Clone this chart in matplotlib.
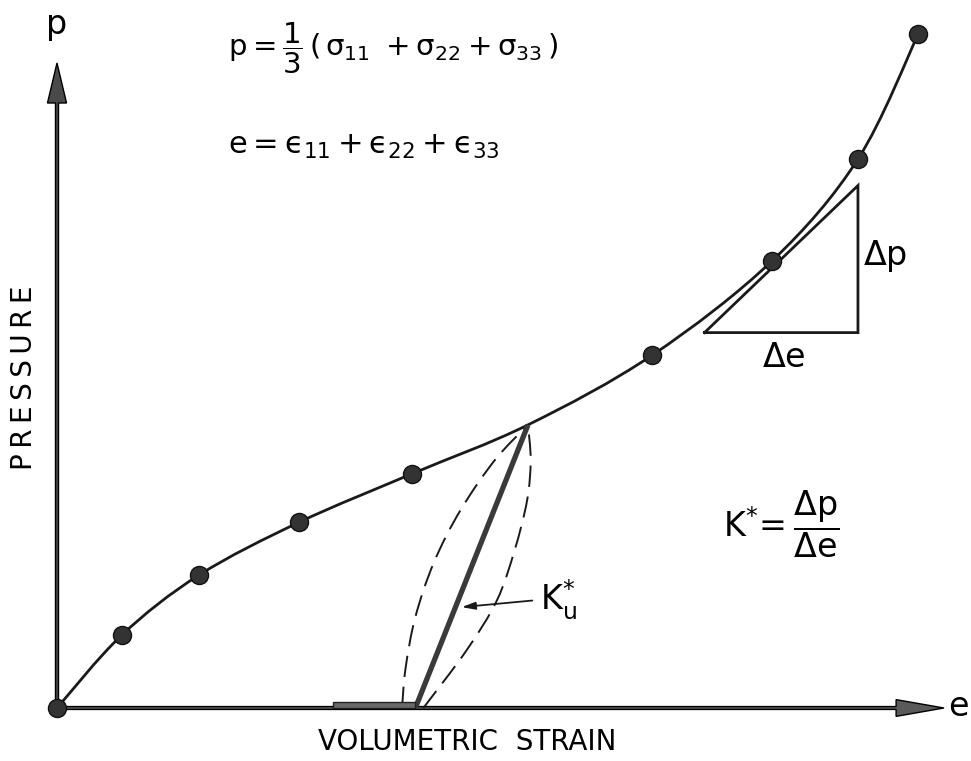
import numpy as np
import matplotlib
matplotlib.use("Agg")
import matplotlib.pyplot as plt
from matplotlib.path import Path
from matplotlib.patches import PathPatch, Rectangle

plt.rcParams['font.family'] = ['DejaVu Sans']
plt.rcParams['mathtext.fontset'] = 'dejavusans'
plt.rcParams['mathtext.default'] = 'regular'

# loading curve, strain and pressure scaled to the length of the axis arrows
strain = [0.0, 0.073, 0.160, 0.273, 0.400, 0.671, 0.806, 0.903, 0.971]
pressure = [0.0, 0.113, 0.206, 0.288, 0.363, 0.547, 0.693, 0.851, 1.045]

# point on the curve where unloading starts
peak_e, peak_p = 0.531, 0.439
# unloading line ends here on the strain axis
unload_e = 0.404
residual_e0 = 0.311          # left end of the permanent-strain bar
residual_h = 0.009

# dashed unload / reload loop
loop_left_e = [0.389, 0.393, 0.404, 0.425, 0.455, 0.494, 0.531]
loop_left_p = [0.0, 0.062, 0.141, 0.226, 0.307, 0.385, 0.439]
loop_right_e = [0.413, 0.462, 0.496, 0.516, 0.530, 0.534, 0.531]
loop_right_p = [0.0, 0.090, 0.167, 0.245, 0.322, 0.384, 0.439]

# tangent triangle (bottom-left corner, right corner, top corner)
tri_e = [0.730, 0.903, 0.903, 0.730]
tri_p = [0.582, 0.582, 0.810, 0.582]


def smooth_path(xs, ys):
    # Catmull-Rom style bezier through the given points
    pts = np.column_stack([xs, ys]).astype(float)
    n = len(pts)
    verts = [pts[0]]
    codes = [Path.MOVETO]
    for i in range(n - 1):
        p0 = pts[max(i - 1, 0)]
        p1 = pts[i]
        p2 = pts[i + 1]
        p3 = pts[min(i + 2, n - 1)]
        verts += [p1 + (p2 - p0) / 6, p2 - (p3 - p1) / 6, p2]
        codes += [Path.CURVE4] * 3
    return Path(verts, codes)


fig = plt.figure(figsize=(9.71, 7.61), dpi=100)
ax = fig.add_axes([0, 0, 1, 1])
ax.set_xlim(-57 / 887, 914 / 887)
ax.set_ylim(-53 / 645, 708 / 645)
ax.axis('off')

# axes with arrow heads
ax.arrow(0, 0, 1.0, 0, width=0.0045, head_width=0.026, head_length=0.054,
         length_includes_head=True, fc='#5a5a5a', ec='black', lw=1, zorder=3)
ax.arrow(0, 0, 0, 1.0, width=0.0034, head_width=0.0215, head_length=0.062,
         length_includes_head=True, fc='#4a4a4a', ec='black', lw=1, zorder=3)

# loading curve through the measured points and the unloading point
order = np.argsort(strain + [peak_e])
ce = np.array(strain + [peak_e])[order]
cp = np.array(pressure + [peak_p])[order]
ax.add_patch(PathPatch(smooth_path(ce, cp), fill=False, lw=2.0, ec='#1a1a1a', zorder=4))
ax.plot(strain, pressure, 'o', ms=13, mfc='#333333', mec='#111111', mew=1, zorder=5)

# unloading / reloading
for le, lp in [(loop_left_e, loop_left_p), (loop_right_e, loop_right_p)]:
    ax.add_patch(PathPatch(smooth_path(le, lp), fill=False, lw=1.4, ec='#1a1a1a',
                           linestyle=(0, (11, 5)), zorder=4))
ax.plot([unload_e, peak_e], [0, peak_p], color='#3a3a3a', lw=3.8,
        solid_capstyle='butt', zorder=4)
ax.add_patch(Rectangle((residual_e0, 0), unload_e - residual_e0, residual_h,
                       fc='#6a6a6a', ec='#222222', lw=1, zorder=4))

# tangent triangle
ax.plot(tri_e, tri_p, color='#1a1a1a', lw=2.0, solid_joinstyle='miter', zorder=4)

# K_u* pointer
ax.annotate('', xy=(0.453, 0.156), xytext=(0.539, 0.167),
            arrowprops=dict(arrowstyle='-|>,head_length=0.8,head_width=0.22',
                            lw=1.3, color='#1a1a1a'), zorder=4)

# labels
ax.text(0.0, 1.059, 'p', fontsize=24, ha='center', va='center')
ax.text(1.016, 0.003, 'e', fontsize=24, ha='center', va='center')
ax.text(-0.037, 0.512, '\u2009'.join('PRESSURE'), fontsize=20, rotation=90,
        ha='center', va='center')
ax.text(0.462, -0.053, 'VOLUMETRIC  STRAIN', fontsize=20, ha='center', va='center')

ax.text(0.193, 1.023, r'$p = \dfrac{1}{3}\,(\,\sigma_{11}\ +\sigma_{22} + \sigma_{33}\,)$',
        fontsize=21, ha='left', va='center')
ax.text(0.193, 0.870, '$e = \u03f5_{11} + \u03f5_{22} + \u03f5_{33}$',
        fontsize=22, ha='left', va='center')

ax.text(0.934, 0.701, r'$\Delta p$', fontsize=24, ha='center', va='center')
ax.text(0.819, 0.544, r'$\Delta e$', fontsize=24, ha='center', va='center')
ax.text(0.751, 0.285, r'$K^{*}\!=\dfrac{\Delta p}{\Delta e}$', fontsize=24,
        ha='left', va='center')
ax.text(0.545, 0.167, r'$K_{u}^{*}$', fontsize=24, ha='left', va='center')

fig.savefig('out.png', dpi=100, facecolor='white')
